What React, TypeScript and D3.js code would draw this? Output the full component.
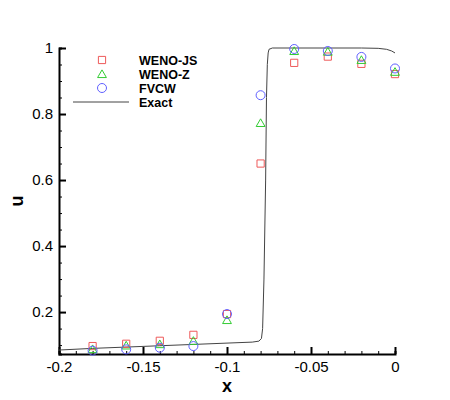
import * as d3 from 'd3';
import { useEffect, useRef } from 'react';

// sample locations shared by the three schemes
const xs = [-0.18, -0.16, -0.14, -0.12, -0.1, -0.08, -0.06, -0.04, -0.02, 0];
const wenoJs = [0.097, 0.104, 0.113, 0.131, 0.194, 0.65, 0.955, 0.974, 0.952, 0.921];
const wenoZ = [0.088, 0.099, 0.103, 0.113, 0.176, 0.773, 0.991, 0.989, 0.964, 0.928];
const fvcw = [0.083, 0.087, 0.092, 0.097, 0.194, 0.857, 0.997, 0.991, 0.973, 0.938];

// exact solution
const exactX = [-0.2, -0.18, -0.16, -0.14, -0.12, -0.1, -0.085, -0.081, -0.0795, -0.0788, -0.078, -0.077, -0.0765, -0.076, -0.0755, -0.075, -0.073, -0.06, -0.02, -0.01, -0.005, -0.002, 0];
const exactU = [0.085, 0.09, 0.094, 0.098, 0.102, 0.106, 0.109, 0.112, 0.12, 0.15, 0.3, 0.6, 0.85, 0.95, 0.985, 0.996, 1.0, 1.0, 1.0, 0.999, 0.996, 0.991, 0.985];

const xTicks = [-0.2, -0.15, -0.1, -0.05, 0];
const xTickLabels = ['-0.2', '-0.15', '-0.1', '-0.05', '0'];
const yTicks = [0.2, 0.4, 0.6, 0.8, 1];
const yTickLabels = ['0.2', '0.4', '0.6', '0.8', '1'];
const legendNames = ['WENO-JS', 'WENO-Z', 'FVCW', 'Exact'];

const width = 450;
const height = 400;
const plot = { left: 59, right: 395, top: 48, bottom: 354 };
const font = 'Liberation Sans, Arial, Helvetica, sans-serif';

function App() {
    const svgRef = useRef<SVGSVGElement>(null);

    useEffect(() => {
        const svg = d3.select(svgRef.current);
        svg.selectAll('*').remove();

        const x = d3.scaleLinear().domain([-0.2, 0]).range([plot.left, plot.right]);
        const y = d3.scaleLinear().domain([0.073, 1]).range([plot.bottom, plot.top]);

        // bottom axis, ticks pointing inward (minor every 0.01)
        const xAxis = svg.append('g').attr('transform', `translate(0, ${plot.bottom})`);
        xAxis.call(d3.axisBottom(x).tickValues(d3.range(-0.2, 0.0001, 0.01)).tickSize(-3).tickFormat(() => ''));
        xAxis.select('.domain').attr('stroke-width', 2);
        const xMajor = svg.append('g').attr('transform', `translate(0, ${plot.bottom})`);
        xMajor.call(d3.axisBottom(x).tickValues(xTicks).tickSize(-7).tickPadding(7)
            .tickFormat((d, i) => xTickLabels[i]));
        xMajor.select('.domain').remove();
        xMajor.selectAll('.tick line').attr('stroke-width', 2);
        xMajor.selectAll('.tick text').attr('font-size', 15).attr('font-family', font).attr('fill', '#000');

        // left axis (minor every 0.05)
        const yAxis = svg.append('g').attr('transform', `translate(${plot.left}, 0)`);
        yAxis.call(d3.axisLeft(y).tickValues(d3.range(0.1, 1.0001, 0.05)).tickSize(-3).tickFormat(() => ''));
        yAxis.select('.domain').attr('stroke-width', 2);
        const yMajor = svg.append('g').attr('transform', `translate(${plot.left}, 0)`);
        yMajor.call(d3.axisLeft(y).tickValues(yTicks).tickSize(-7).tickPadding(6)
            .tickFormat((d, i) => yTickLabels[i]));
        yMajor.select('.domain').remove();
        yMajor.selectAll('.tick line').attr('stroke-width', 2);
        yMajor.selectAll('.tick text').attr('font-size', 15).attr('font-family', font).attr('fill', '#000');

        svg.append('text').attr('x', (plot.left + plot.right) / 2).attr('y', 392)
            .attr('text-anchor', 'middle').attr('font-family', font).attr('font-weight', 'bold')
            .attr('font-size', 18).text('x');
        svg.append('text').attr('transform', `translate(23, ${(plot.top + plot.bottom) / 2}) rotate(-90)`)
            .attr('text-anchor', 'middle').attr('font-family', font).attr('font-weight', 'bold')
            .attr('font-size', 18).text('u');

        // exact solution line
        const line = d3.line<number>().x((d, i) => x(exactX[i])).y(d => y(d));
        svg.append('path').datum(exactU).attr('d', line).attr('fill', 'none')
            .attr('stroke', '#444').attr('stroke-width', 1);

        const sq = d3.symbol().type(d3.symbolSquare).size(52)();
        const tri = d3.symbol().type(d3.symbolTriangle).size(34)();

        svg.append('g').selectAll('path').data(wenoJs).enter().append('path')
            .attr('d', sq).attr('transform', (d, i) => `translate(${x(xs[i])}, ${y(d)})`)
            .attr('fill', 'none').attr('stroke', '#ee5a5a').attr('stroke-width', 1);
        svg.append('g').selectAll('path').data(wenoZ).enter().append('path')
            .attr('d', tri).attr('transform', (d, i) => `translate(${x(xs[i])}, ${y(d) + 1})`)
            .attr('fill', 'none').attr('stroke', '#33cc33').attr('stroke-width', 1);
        svg.append('g').selectAll('circle').data(fvcw).enter().append('circle')
            .attr('cx', (d, i) => x(xs[i])).attr('cy', d => y(d)).attr('r', 4.5)
            .attr('fill', 'none').attr('stroke', '#6060ff').attr('stroke-width', 1);

        // legend
        const legend = svg.append('g');
        const rowY = [60, 74, 88, 102];
        legend.selectAll('text').data(legendNames).enter().append('text')
            .attr('x', 139).attr('y', (d, i) => rowY[i] + 4.5)
            .attr('font-family', font).attr('font-weight', 'bold').attr('font-size', 12.5).text(d => d);
        legend.append('path').attr('d', sq).attr('transform', `translate(102, ${rowY[0]})`)
            .attr('fill', 'none').attr('stroke', '#ee5a5a');
        legend.append('path').attr('d', tri).attr('transform', `translate(102, ${rowY[1] + 1})`)
            .attr('fill', 'none').attr('stroke', '#33cc33');
        legend.append('circle').attr('cx', 102).attr('cy', rowY[2]).attr('r', 4.5)
            .attr('fill', 'none').attr('stroke', '#6060ff');
        legend.append('line').attr('x1', 73).attr('x2', 129).attr('y1', rowY[3]).attr('y2', rowY[3])
            .attr('stroke', '#444').attr('stroke-width', 1);
    }, []);

    return <svg ref={svgRef} width={width} height={height}
        style={{ position: 'absolute', left: 0, top: 0, background: '#fff' }} />;
}

export default App;
